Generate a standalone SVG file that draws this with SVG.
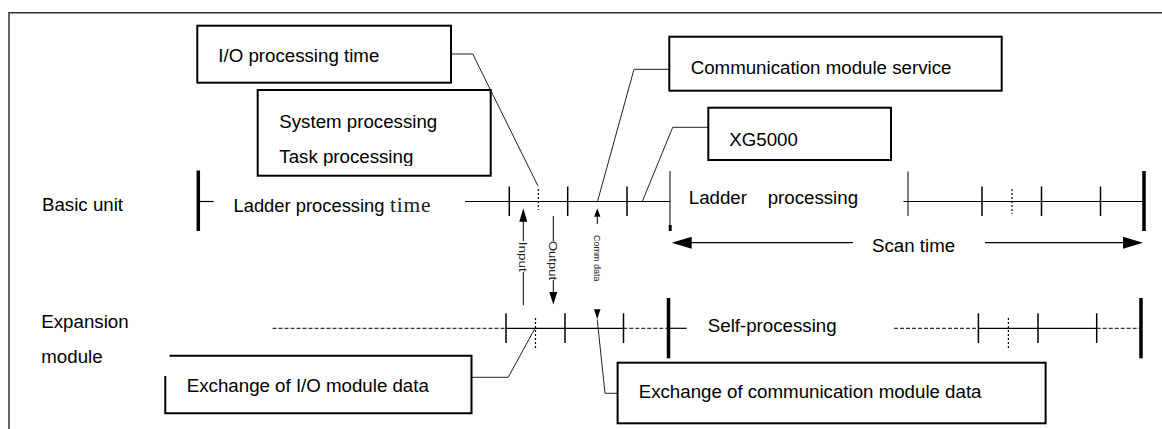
<svg xmlns="http://www.w3.org/2000/svg" width="1162" height="429" viewBox="0 0 1162 429">
<style>
.t{font-family:"Liberation Sans",Arial,sans-serif;font-size:18.7px;fill:#000}
.s{font-family:"Liberation Serif","Times New Roman",serif;font-size:21.5px;fill:#222}
.sm{font-family:"Liberation Sans",Arial,sans-serif;fill:#222}
.box{fill:#fff;stroke:#000;stroke-width:2}
.tl{stroke:#000;stroke-width:1.2;fill:none}
.dash{stroke:#000;stroke-width:1;stroke-dasharray:4 2;fill:none}
.tick{stroke:#000;stroke-width:1.5}
.thin{stroke:#000;stroke-width:1}
.dot{stroke:#000;stroke-width:1.2;stroke-dasharray:2 2}
.bar{stroke:#000;stroke-width:3.5}
.lead{stroke:#222;stroke-width:1;fill:none}
.ah{fill:#000}
</style>
<defs>
<clipPath id="clipTask"><rect x="250" y="90" width="245" height="76"/></clipPath>
</defs>
<rect width="1162" height="429" fill="#fff"/>
<path d="M9,429 V12.7 H1162" fill="none" stroke="#333" stroke-width="1.5"/>

<g id="label-basic"><text class="t" x="42" y="211">Basic unit</text></g>
<g id="label-expansion"><text class="t" x="41.3" y="328.3">Expansion</text><text class="t" x="41.3" y="363">module</text></g>

<g id="connectors">
<path class="lead" d="M451,54 H472.7 L538,186"/>
<path class="lead" d="M669.3,69.3 H634 L597.5,201.5"/>
<path class="lead" d="M708.3,127.3 H672.7 L642.3,201.5"/>
<path class="lead" d="M471.5,377.3 H508.2 L535,328.3"/>
<path class="lead" d="M597.2,319.3 L605,393.3 H617.6"/>
<polygon class="ah" points="523.3,208.3 519.3,221.7 527.3,221.7"/>
<line class="thin" x1="523.3" y1="221" x2="523.3" y2="241"/>
<line class="thin" x1="523.3" y1="272" x2="523.3" y2="305"/>
<line class="thin" x1="553.3" y1="216" x2="553.3" y2="241"/>
<line class="thin" x1="553.3" y1="280" x2="553.3" y2="293"/>
<polygon class="ah" points="549.3,292 557.3,292 553.3,304.5"/>
<polygon class="ah" points="597.3,208.3 594.2,216.7 600.4,216.7"/>
<line class="thin" x1="597.3" y1="216" x2="597.3" y2="224"/>
<polygon class="ah" points="594,309.3 600.5,309.3 597.2,319.3"/>
<line class="tl" x1="690" y1="242.7" x2="853" y2="242.7"/>
<polygon class="ah" points="671.7,242.7 691.7,236.7 691.7,248.7"/>
<line class="tl" x1="985" y1="242.7" x2="1125" y2="242.7"/>
<polygon class="ah" points="1143,242.7 1123,236.7 1123,248.7"/>
</g>

<g id="basic-timeline">
<line class="bar" x1="198.3" y1="170.5" x2="198.3" y2="231"/>
<line class="tl" x1="198" y1="201.5" x2="213.6" y2="201.5"/>
<line class="tl" x1="465" y1="201.5" x2="670" y2="201.5"/>
<line class="tick" x1="509.3" y1="186.5" x2="509.3" y2="216"/>
<line class="dot" x1="538.3" y1="189" x2="538.3" y2="210"/>
<line class="tick" x1="567.7" y1="186.5" x2="567.7" y2="216"/>
<line class="tick" x1="627" y1="186.5" x2="627" y2="216"/>
<line class="thin" x1="670" y1="171" x2="670" y2="228"/>
<rect x="668.7" y="225" width="3" height="6" fill="#000"/>
<line class="tl" x1="903.5" y1="201.5" x2="1144" y2="201.5"/>
<line class="thin" x1="908" y1="171.5" x2="908" y2="216"/>
<line class="tick" x1="982" y1="186.5" x2="982" y2="216"/>
<line class="dot" x1="1012" y1="189" x2="1012" y2="214"/>
<line class="tick" x1="1041.5" y1="186.5" x2="1041.5" y2="216"/>
<line class="tick" x1="1100.5" y1="186.5" x2="1100.5" y2="216"/>
<line class="bar" x1="1144" y1="171" x2="1144" y2="231"/>
<text class="t" x="233.5" y="212" textLength="151" lengthAdjust="spacingAndGlyphs">Ladder processing</text>
<text class="s" x="390" y="212" letter-spacing="0.8">time</text>
<text class="t" x="688.8" y="204">Ladder<tspan x="767.7">processing</tspan></text>
<text class="t" x="872" y="251.5">Scan time</text>
</g>

<g id="io-labels">
<text class="sm" font-size="11.5" text-anchor="middle" transform="translate(519.4,256.7) rotate(90)" textLength="30" lengthAdjust="spacingAndGlyphs">Input</text>
<text class="sm" font-size="11.5" text-anchor="middle" transform="translate(549.4,260.5) rotate(90)" textLength="39" lengthAdjust="spacingAndGlyphs">Output</text>
<text class="sm" font-size="9.5" text-anchor="middle" transform="translate(594,258.3) rotate(90)" textLength="46.5" lengthAdjust="spacingAndGlyphs">Comm data</text>
</g>

<g id="expansion-timeline">
<line class="dash" x1="272.5" y1="328.3" x2="506" y2="328.3"/>
<line class="tl" x1="506" y1="328.3" x2="623.3" y2="328.3"/>
<line class="dash" x1="623.3" y1="328.3" x2="668.5" y2="328.3"/>
<line class="tl" x1="668.5" y1="328.3" x2="686.7" y2="328.3"/>
<line class="dash" x1="894" y1="328.3" x2="978.4" y2="328.3"/>
<line class="tl" x1="978.4" y1="328.3" x2="1096.7" y2="328.3"/>
<line class="dash" x1="1096.7" y1="328.3" x2="1141" y2="328.3"/>
<line class="tick" x1="506" y1="313.3" x2="506" y2="343"/>
<line class="dot" x1="535.5" y1="318" x2="535.5" y2="348"/>
<line class="tick" x1="565" y1="313.3" x2="565" y2="343"/>
<line class="tick" x1="623.5" y1="313.3" x2="623.5" y2="343"/>
<line class="bar" x1="668.5" y1="298" x2="668.5" y2="358.3"/>
<line class="tick" x1="978.4" y1="313.3" x2="978.4" y2="343"/>
<line class="dot" x1="1008.4" y1="318" x2="1008.4" y2="348"/>
<line class="tick" x1="1038" y1="313.3" x2="1038" y2="343"/>
<line class="tick" x1="1096.7" y1="313.3" x2="1096.7" y2="343"/>
<line class="bar" x1="1141" y1="298" x2="1141" y2="358.3"/>
<text class="t" x="707.8" y="331.5">Self-processing</text>
</g>

<g id="node-io-time">
<rect class="box" x="197.3" y="25.7" width="253.7" height="57"/>
<text class="t" x="218.3" y="61.7">I/O processing time</text>
</g>
<g id="node-system">
<rect class="box" x="257.7" y="90" width="233" height="85.7"/>
<text class="t" x="279.3" y="128.3">System processing</text>
<text class="t" x="279.3" y="163.3" clip-path="url(#clipTask)">Task processing</text>
</g>
<g id="node-comm-service">
<rect class="box" x="669.3" y="36.7" width="332.4" height="54"/>
<text class="t" x="690.7" y="74">Communication module service</text>
</g>
<g id="node-xg5000">
<rect class="box" x="708.3" y="107.7" width="182.7" height="52.3"/>
<text class="t" x="729.3" y="145.7">XG5000</text>
</g>
<g id="node-io-exchange">
<path d="M169.5,355.7 H471.5 V413.3 H165.3 V376" fill="#fff" stroke="#000" stroke-width="2"/>
<text class="t" x="186.8" y="391.7">Exchange of I/O module data</text>
</g>
<g id="node-comm-exchange">
<rect class="box" x="617.6" y="362.7" width="428" height="60.6"/>
<text class="t" x="638.7" y="398.3">Exchange of communication module data</text>
</g>
</svg>
